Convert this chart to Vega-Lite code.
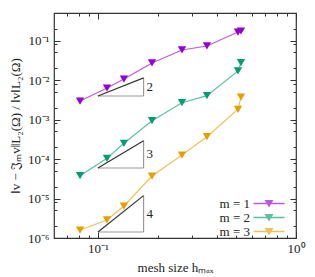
{
  "$schema": "https://vega.github.io/schema/vega-lite/v6.json",
  "width": 242,
  "height": 225,
  "autosize": {"type": "none"},
  "padding": {"left": 54, "top": 13, "right": 19, "bottom": 39},
  "config": {
    "font": "Liberation Serif",
    "view": {"stroke": "#333", "strokeWidth": 1.2},
    "axis": {"grid": false, "domain": false, "tickColor": "#333", "labelColor": "#222", "titleColor": "#222", "labelFont": "Liberation Serif", "titleFont": "Liberation Serif", "labelFontSize": 13, "titleFontSize": 13, "titleFontWeight": "normal", "tickWidth": 1},
    "legend": {"labelFont": "Liberation Serif", "labelFontSize": 13, "labelColor": "#222"}
  },
  "datasets": {
    "series": [
      {"m": "m = 1", "h": 0.0812, "err": 0.00295},
      {"m": "m = 1", "h": 0.1111, "err": 0.0063},
      {"m": "m = 1", "h": 0.1353, "err": 0.01064},
      {"m": "m = 1", "h": 0.1875, "err": 0.0271},
      {"m": "m = 1", "h": 0.2657, "err": 0.0578},
      {"m": "m = 1", "h": 0.3552, "err": 0.073},
      {"m": "m = 1", "h": 0.5093, "err": 0.165},
      {"m": "m = 1", "h": 0.5274, "err": 0.175},
      {"m": "m = 2", "h": 0.0812, "err": 3.78e-5},
      {"m": "m = 2", "h": 0.1111, "err": 1.04e-4},
      {"m": "m = 2", "h": 0.1353, "err": 2.51e-4},
      {"m": "m = 2", "h": 0.1875, "err": 9.36e-4},
      {"m": "m = 2", "h": 0.2657, "err": 0.00267},
      {"m": "m = 2", "h": 0.3552, "err": 0.00402},
      {"m": "m = 2", "h": 0.5093, "err": 0.017},
      {"m": "m = 2", "h": 0.5274, "err": 0.0276},
      {"m": "m = 3", "h": 0.0812, "err": 1.59e-6},
      {"m": "m = 3", "h": 0.1111, "err": 2.86e-6},
      {"m": "m = 3", "h": 0.1353, "err": 6.46e-6},
      {"m": "m = 3", "h": 0.1875, "err": 3.71e-5},
      {"m": "m = 3", "h": 0.2657, "err": 1.26e-4},
      {"m": "m = 3", "h": 0.3552, "err": 3.68e-4},
      {"m": "m = 3", "h": 0.5093, "err": 0.00182},
      {"m": "m = 3", "h": 0.5274, "err": 0.00372}
    ],
    "tris": [
      {"p": "2", "h": 0.1, "h2": 0.17, "err": 0.00395, "err2": 0.0114, "errm": 0.00671},
      {"p": "3", "h": 0.1, "h2": 0.17, "err": 5.93e-5, "err2": 2.91e-4, "errm": 1.314e-4},
      {"p": "4", "h": 0.1, "h2": 0.17, "err": 1.42e-6, "err2": 1.186e-5, "errm": 4.1e-6}
    ]
  },
  "layer": [
    {
      "layer": [
        {
          "data": {"name": "series"},
          "mark": {"type": "line", "strokeWidth": 1.2, "opacity": 0.65},
          "encoding": {
            "x": {"field": "h", "type": "quantitative", "scale": {"type": "log", "domain": [0.06, 1], "nice": false}, "axis": null},
            "y": {"field": "err", "type": "quantitative", "scale": {"type": "log", "domain": [1e-6, 0.5], "nice": false}, "axis": null},
            "color": {"field": "m", "type": "nominal", "scale": {"domain": ["m = 1", "m = 2", "m = 3"], "range": ["#9400d3", "#009e73", "#e69f00"]},
              "legend": {"orient": "none", "legendX": 208.5, "legendY": 184, "title": null,
                "symbolType": "M-3.1,-0.14H3.1V0.14H-3.1Z M-0.9,-0.7H0.9L0,0.8Z", "symbolSize": 100, "symbolStrokeWidth": 0,
                "labelAlign": "right", "labelOffset": -25.5, "rowPadding": -1.5, "padding": 0,
                "encode": {"symbols": {"update": {"fill": {"signal": "datum.value == 'm = 1' ? '#9400d3' : datum.value == 'm = 2' ? '#009e73' : '#e69f00'"}, "opacity": {"value": 1}, "fillOpacity": {"value": 1}}}}}}
          }
        },
        {
          "data": {"name": "series"},
          "mark": {"type": "point", "shape": "triangle-down", "filled": true, "size": 70, "opacity": 1},
          "encoding": {
            "x": {"field": "h", "type": "quantitative", "scale": {"type": "log", "domain": [0.06, 1], "nice": false}, "axis": null},
            "y": {"field": "err", "type": "quantitative", "scale": {"type": "log", "domain": [1e-6, 0.5], "nice": false}, "axis": null},
            "color": {"field": "m", "type": "nominal", "scale": {"domain": ["m = 1", "m = 2", "m = 3"], "range": ["#9400d3", "#009e73", "#e69f00"]},
              "legend": {"orient": "none", "legendX": 208.5, "legendY": 184, "title": null,
                "symbolType": "M-3.1,-0.14H3.1V0.14H-3.1Z M-0.9,-0.7H0.9L0,0.8Z", "symbolSize": 100, "symbolStrokeWidth": 0,
                "labelAlign": "right", "labelOffset": -25.5, "rowPadding": -1.5, "padding": 0,
                "encode": {"symbols": {"update": {"fill": {"signal": "datum.value == 'm = 1' ? '#9400d3' : datum.value == 'm = 2' ? '#009e73' : '#e69f00'"}, "opacity": {"value": 1}, "fillOpacity": {"value": 1}}}}}}
          }
        },
        {
          "data": {"name": "tris"},
          "mark": {"type": "rule", "color": "#999", "strokeWidth": 1.2},
          "encoding": {
            "x": {"field": "h", "type": "quantitative", "scale": {"type": "log", "domain": [0.06, 1], "nice": false}, "axis": null},
            "x2": {"field": "h2"},
            "y": {"field": "err", "type": "quantitative", "scale": {"type": "log", "domain": [1e-6, 0.5], "nice": false}, "axis": null},
            "y2": {"field": "err"}
          }
        },
        {
          "data": {"name": "tris"},
          "mark": {"type": "rule", "color": "#999", "strokeWidth": 1.2},
          "encoding": {
            "x": {"field": "h2", "type": "quantitative", "scale": {"type": "log", "domain": [0.06, 1], "nice": false}, "axis": null},
            "y": {"field": "err", "type": "quantitative", "scale": {"type": "log", "domain": [1e-6, 0.5], "nice": false}, "axis": null},
            "y2": {"field": "err2"}
          }
        },
        {
          "data": {"name": "tris"},
          "mark": {"type": "rule", "color": "#333", "strokeWidth": 1.2},
          "encoding": {
            "x": {"field": "h", "type": "quantitative", "scale": {"type": "log", "domain": [0.06, 1], "nice": false}, "axis": null},
            "x2": {"field": "h2"},
            "y": {"field": "err", "type": "quantitative", "scale": {"type": "log", "domain": [1e-6, 0.5], "nice": false}, "axis": null},
            "y2": {"field": "err2"}
          }
        },
        {
          "data": {"name": "tris"},
          "mark": {"type": "text", "align": "left", "baseline": "middle", "dx": 3, "fontSize": 13, "font": "Liberation Serif", "color": "#222"},
          "encoding": {
            "x": {"field": "h2", "type": "quantitative", "scale": {"type": "log", "domain": [0.06, 1], "nice": false}, "axis": null},
            "y": {"field": "errm", "type": "quantitative", "scale": {"type": "log", "domain": [1e-6, 0.5], "nice": false}, "axis": null},
            "text": {"field": "p"}
          }
        }
      ]
    },
    {
      "data": {"name": "series"},
      "mark": {"type": "point", "opacity": 0},
      "encoding": {
        "x": {"field": "h", "type": "quantitative", "scale": {"type": "log", "domain": [0.06, 1], "nice": false},
          "axis": {"orient": "bottom", "values": [0.1, 1], "labelExpr": "datum.value == 0.1 ? '10⁻¹' : '10⁰'",
            "tickSize": 6, "offset": -6, "labelPadding": 4, "labelFlush": false, "title": "mesh size hₘₐₓ", "titlePadding": 6}},
        "y": {"field": "err", "type": "quantitative", "scale": {"type": "log", "domain": [1e-6, 0.5], "nice": false},
          "axis": {"orient": "left", "values": [1e-6, 1e-5, 1e-4, 1e-3, 0.01, 0.1],
            "labelExpr": "datum.value == 1e-6 ? '10⁻⁶' : datum.value == 1e-5 ? '10⁻⁵' : datum.value == 1e-4 ? '10⁻⁴' : datum.value == 1e-3 ? '10⁻³' : datum.value == 0.01 ? '10⁻²' : '10⁻¹'",
            "tickSize": 6, "offset": -6, "labelPadding": 5, "labelFlush": false, "title": "‖v − 𝔍ₘv‖L₂(Ω) / ‖v‖L₂(Ω)", "titlePadding": 5, "titleFontSize": 13}}
      }
    },
    {
      "data": {"name": "series"},
      "mark": {"type": "point", "opacity": 0},
      "encoding": {
        "x": {"field": "h", "type": "quantitative", "scale": {"type": "log", "domain": [0.06, 1], "nice": false},
          "axis": {"orient": "bottom", "values": [0.07, 0.08, 0.09, 0.2, 0.3, 0.4, 0.5, 0.6, 0.7, 0.8, 0.9], "labels": false, "title": null, "tickSize": 3, "offset": -3}},
        "y": {"field": "err", "type": "quantitative", "scale": {"type": "log", "domain": [1e-6, 0.5], "nice": false},
          "axis": {"orient": "left", "values": [2e-6, 5e-6, 8e-6, 2e-5, 5e-5, 8e-5, 2e-4, 5e-4, 8e-4, 2e-3, 5e-3, 8e-3, 0.02, 0.05, 0.08, 0.2], "labels": false, "title": null, "tickSize": 3, "offset": -3}}
      }
    },
    {
      "data": {"name": "series"},
      "mark": {"type": "point", "opacity": 0},
      "encoding": {
        "x": {"field": "h", "type": "quantitative", "scale": {"type": "log", "domain": [0.06, 1], "nice": false},
          "axis": {"orient": "top", "values": [0.1, 1], "labels": false, "title": null, "tickSize": 6, "offset": -6}},
        "y": {"field": "err", "type": "quantitative", "scale": {"type": "log", "domain": [1e-6, 0.5], "nice": false},
          "axis": {"orient": "right", "values": [1e-6, 1e-5, 1e-4, 1e-3, 0.01, 0.1], "labels": false, "title": null, "tickSize": 6, "offset": -6}}
      }
    },
    {
      "data": {"name": "series"},
      "mark": {"type": "point", "opacity": 0},
      "encoding": {
        "x": {"field": "h", "type": "quantitative", "scale": {"type": "log", "domain": [0.06, 1], "nice": false},
          "axis": {"orient": "top", "values": [0.07, 0.08, 0.09, 0.2, 0.3, 0.4, 0.5, 0.6, 0.7, 0.8, 0.9], "labels": false, "title": null, "tickSize": 3, "offset": -3}},
        "y": {"field": "err", "type": "quantitative", "scale": {"type": "log", "domain": [1e-6, 0.5], "nice": false},
          "axis": {"orient": "right", "values": [2e-6, 5e-6, 8e-6, 2e-5, 5e-5, 8e-5, 2e-4, 5e-4, 8e-4, 2e-3, 5e-3, 8e-3, 0.02, 0.05, 0.08, 0.2], "labels": false, "title": null, "tickSize": 3, "offset": -3}}
      }
    }
  ],
  "resolve": {"scale": {"x": "independent", "y": "independent"}}
}
